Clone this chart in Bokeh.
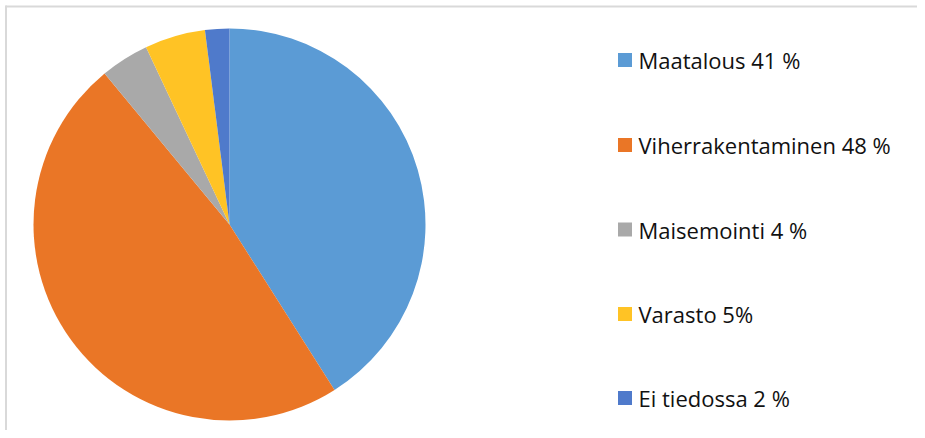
import math
from bokeh.plotting import figure
from bokeh.models import ColumnDataSource
from bokeh.core.properties import value
from bokeh.embed import file_html
from bokeh.resources import INLINE

categories = ["Maatalous", "Viherrakentaminen", "Maisemointi", "Varasto", "Ei tiedossa"]
values = [41, 48, 4, 5, 2]
labels = ["Maatalous 41 %", "Viherrakentaminen 48 %", "Maisemointi 4 %", "Varasto 5%", "Ei tiedossa 2 %"]
colors = ["#5B9BD5", "#EA7626", "#A9A9A9", "#FFC325", "#4F7ACB"]

W, H = 917, 430
p = figure(width=W, height=H, x_range=(8, 8 + W), y_range=(0, H),
           output_backend="svg", toolbar_location=None, min_border=0)
p.axis.visible = False
p.grid.visible = False
p.outline_line_color = None
p.background_fill_color = "white"
p.border_fill_color = "white"

def py(page_y):
    return 438 - page_y

# frame border lines (top and left)
p.line(x=[13, 925], y=[py(14), py(14)], line_color="#D9D9D9", line_width=2)
p.line(x=[13.5, 13.5], y=[py(13), py(440)], line_color="#D9D9D9", line_width=2)

total = sum(values)
starts, ends = [], []
cum = 0
for v in values:
    starts.append(math.pi / 2 - 2 * math.pi * cum / total)
    cum += v
    ends.append(math.pi / 2 - 2 * math.pi * cum / total)

cx, cy, r = 237, py(232), 196
src = ColumnDataSource(dict(start=starts, end=ends, color=colors, cat=categories))
p.wedge(x=cx, y=cy, radius=r, start_angle="start", end_angle="end",
        direction="clock", fill_color="color", line_color=None, source=src)

# legend
row_y = [67.5, 152.5, 237, 321.5, 405.5]
lsrc = ColumnDataSource(dict(x=[632.5] * 5, y=[py(v) for v in row_y], color=colors,
                             tx=[646] * 5, label=labels))
p.rect(x="x", y="y", width=14, height=14, fill_color="color", line_color=None, source=lsrc)
p.text(x="tx", y="y", text="label", text_font=value("Open Sans"), text_font_size="22px",
       text_color="#111111", text_baseline="middle", text_align="left", source=lsrc)

open("out.html", "w").write(file_html(p, INLINE))
